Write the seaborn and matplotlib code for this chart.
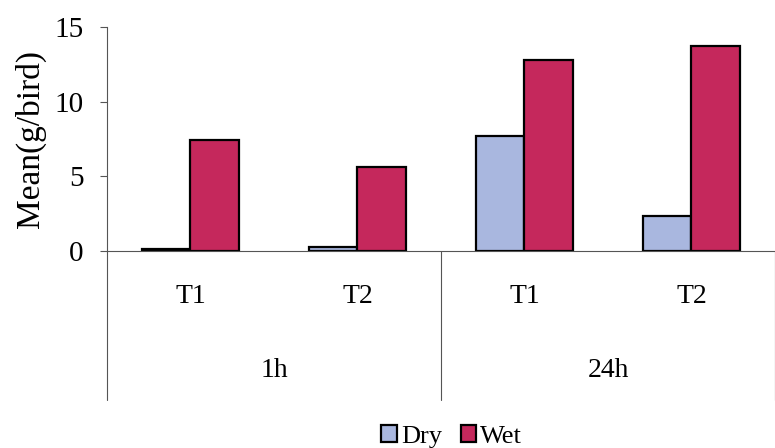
import matplotlib
matplotlib.use("Agg")
import matplotlib.pyplot as plt
import seaborn as sns
import pandas as pd
from matplotlib.patches import Patch

groups = ["1h", "1h", "24h", "24h"]
treatments = ["T1", "T2", "T1", "T2"]
dry = [0.12, 0.25, 7.7, 2.35]
wet = [7.4, 5.65, 12.8, 13.75]
series = ["Dry", "Wet"]
colors = {"Dry": "#A9B7DF", "Wet": "#C5285C"}

keys = [f"{g} {t}" for g, t in zip(groups, treatments)]
df = pd.DataFrame({
    "key": keys * 2,
    "Type": ["Dry"] * 4 + ["Wet"] * 4,
    "value": dry + wet,
})

sns.set_theme(style="white")
plt.rcParams["font.family"] = ["Liberation Serif", "DejaVu Serif"]
plt.rcParams["text.color"] = "black"
plt.rcParams["axes.labelcolor"] = "black"
plt.rcParams["xtick.color"] = "black"
plt.rcParams["ytick.color"] = "black"

fig = plt.figure(figsize=(7.75, 4.48), dpi=100)
ax = fig.add_axes([0.138, 0.44, 0.862, 0.50])

sns.barplot(data=df, x="key", y="value", hue="Type", order=keys,
            hue_order=series, palette=colors, width=0.58,
            edgecolor="black", linewidth=1.6, saturation=1, ax=ax,
            legend=False)

ax.set_ylim(0, 15)
ax.set_xlim(-0.5, 3.5)
ax.set_yticks([0, 5, 10, 15])
ax.set_yticklabels(["0", "5", "10", "15"], fontsize=21)
ax.set_xticks(range(4))
ax.set_xticklabels(treatments, fontsize=20)
ax.tick_params(axis="x", length=0, pad=24, labelcolor="black")
ax.tick_params(axis="y", length=5, width=0.8, color="#555555", pad=12,
               left=True, labelcolor="black")
ax.set_xlabel("")
ax.set_ylabel("Mean(g/bird)", fontsize=24, labelpad=6, color="black")

for s in ["top", "right"]:
    ax.spines[s].set_visible(False)
ax.spines["left"].set_color("#555555")
ax.spines["left"].set_linewidth(0.8)
ax.spines["bottom"].set_color("#555555")
ax.spines["bottom"].set_linewidth(0.8)

tr = ax.get_xaxis_transform()
for xsep in [-0.5, 1.5, 3.5]:
    ax.plot([xsep, xsep], [0, -0.665], transform=tr, color="#555555",
            lw=0.8, clip_on=False)
for xc, g in [(0.5, "1h"), (2.5, "24h")]:
    ax.text(xc, -0.536, g, transform=tr, ha="center", va="center",
            fontsize=20, color="black")

handles = [Patch(facecolor=colors[s], edgecolor="black", linewidth=1.6, label=s)
           for s in series]
leg = fig.legend(handles=handles, loc="center", bbox_to_anchor=(0.583, 0.025),
                 ncol=2, frameon=False, fontsize=19, handlelength=0.6,
                 handleheight=0.6, handletextpad=0.15, columnspacing=0.7,
                 borderpad=0.1)
for t in leg.get_texts():
    t.set_color("black")

fig.savefig("out.png", dpi=100)
